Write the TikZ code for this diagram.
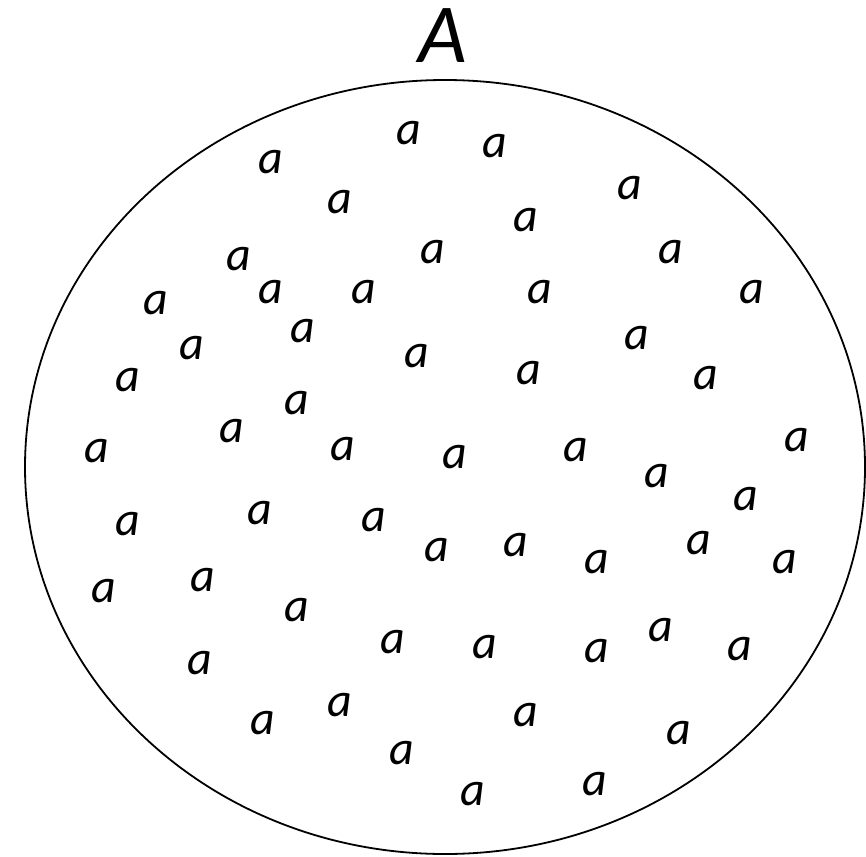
\documentclass[tikz,border=0pt]{standalone}
\usepackage{fontspec}
\setmainfont{Carlito}
\begin{document}
\begin{tikzpicture}[x=1pt,y=-1pt,
  elem/.style={inner sep=0pt, font=\fontsize{48}{48}\selectfont\itshape},
  setlabel/.style={inner sep=0pt, font=\fontsize{84}{84}\selectfont\itshape},
  setline/.style={line width=1.8pt}]
\useasboundingbox (0,0) rectangle (866,856);
\draw[setline] (445,467) ellipse [x radius=420pt, y radius=387pt];
\node[setlabel] (setA) at (443,36) {A};
\foreach \px/\py [count=\i] in {
  409/133, 271/162, 340/202, 239/259, 433/252, 156/303, 271/292, 364/292,
  303/331, 192/348, 417/356, 128/380, 297/403, 232/431,
  495/146, 630/188, 526/220, 671/252, 540/292, 752/292, 637/338, 529/373, 706/378,
  97/451, 343/449, 260/513, 128/524, 374/520, 203/580, 104/591, 297/610, 393/642,
  200/663, 340/705, 263/723, 402/753, 437/550,
  797/440, 455/457, 576/450, 657/476, 746/499, 516/545, 597/562, 699/543, 785/562,
  485/647, 597/651, 661/630, 740/649, 526/715, 679/733, 473/794, 595/784}
  \node[elem] (a\i) at (\px,\py) {a};
\end{tikzpicture}
\end{document}
